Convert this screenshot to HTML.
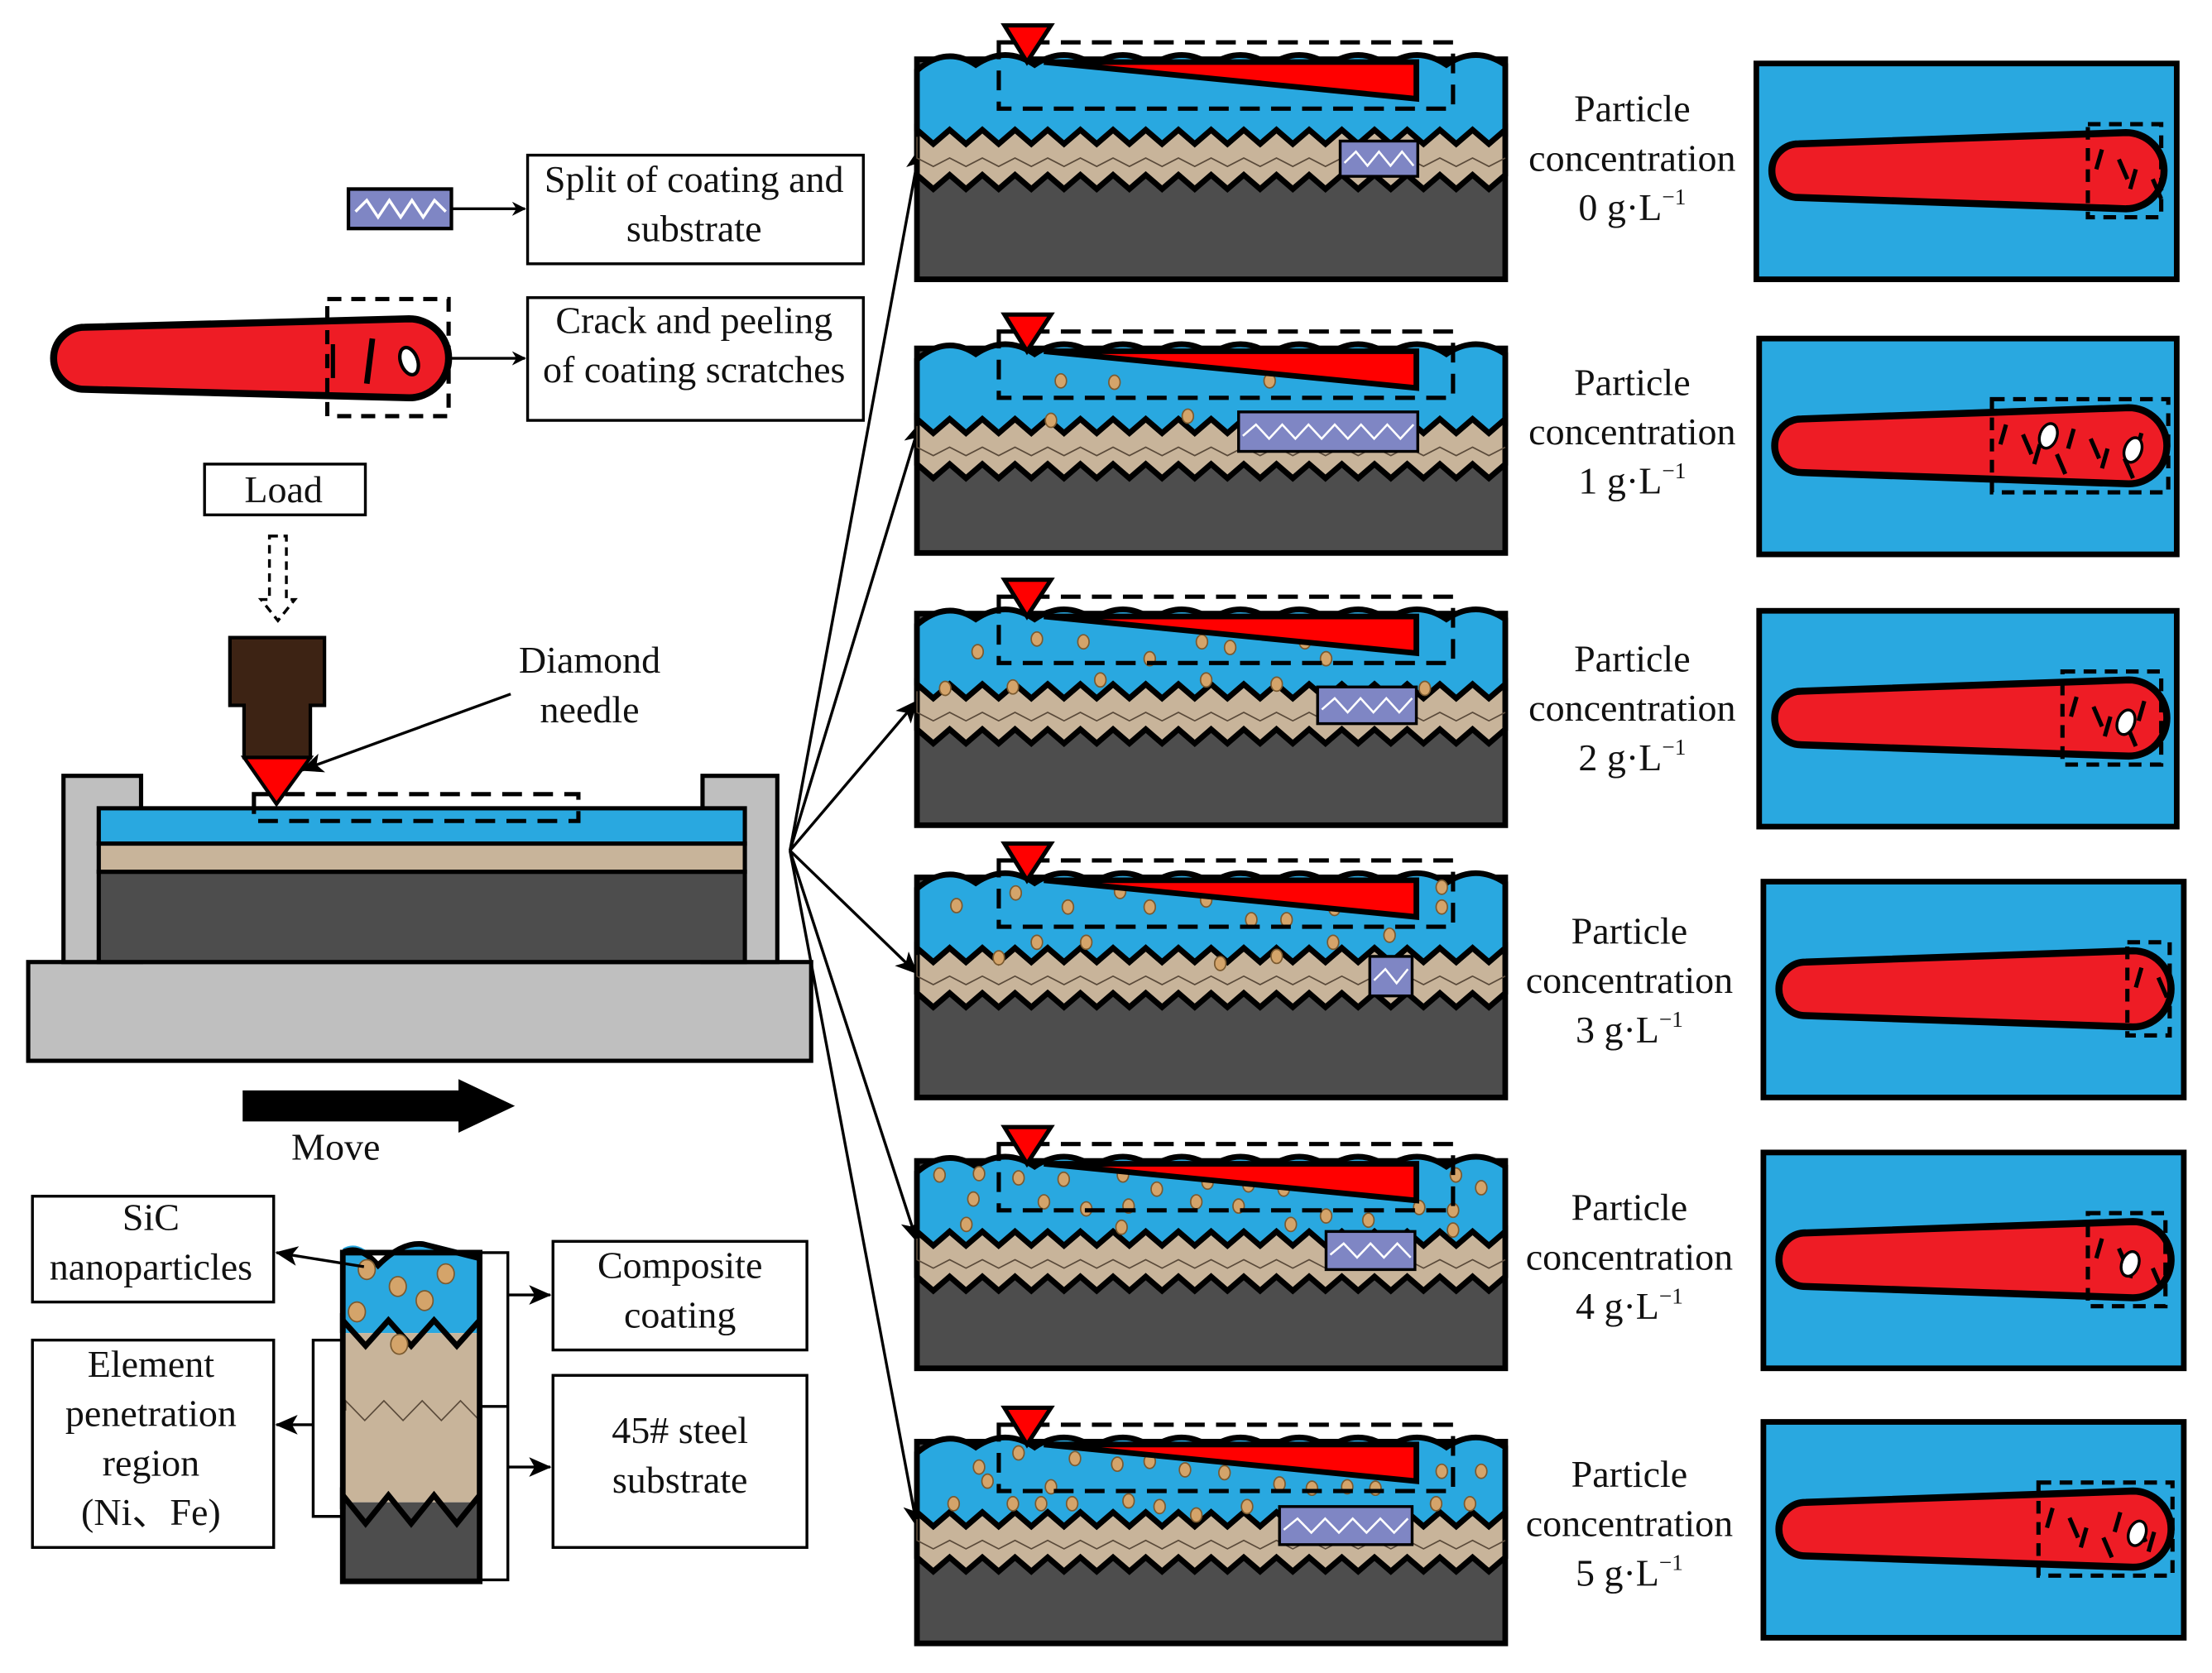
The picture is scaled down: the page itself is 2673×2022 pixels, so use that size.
<!DOCTYPE html>
<html><head><meta charset="utf-8"><style>
html,body{margin:0;padding:0;background:#fff}
svg{display:block}
text{font-family:"Liberation Serif",serif;font-size:27px;fill:#111;text-anchor:middle}
</style></head><body>
<div style="position:relative;width:2673px;height:2022px">
<svg id="s" width="2673" height="2022" viewBox="0 0 1568 1186" preserveAspectRatio="none" xmlns="http://www.w3.org/2000/svg" font-family="Liberation Serif, serif" style="position:absolute;left:0;top:0">
<defs>
<marker id="ah" markerWidth="10" markerHeight="10" refX="9" refY="5" orient="auto" markerUnits="userSpaceOnUse"><path d="M0,0 L10,5 L0,10 L3,5z" fill="#000"/></marker>
<marker id="ah2" markerWidth="16" markerHeight="14" refX="15" refY="7" orient="auto" markerUnits="userSpaceOnUse"><path d="M0,0 L16,7 L0,14 L4,7z" fill="#000"/></marker>
</defs>
<g id="g"></g>
<g font-family="Liberation Serif, serif" font-size="27" text-anchor="middle" fill="#111">
<text x="492" y="136">Split of coating and</text>
<text x="492" y="171">substrate</text>
<text x="492" y="236">Crack and peeling</text>
<text x="492" y="271">of coating scratches</text>
<text x="201" y="356">Load</text>
<text x="418" y="477">Diamond</text>
<text x="418" y="512">needle</text>
<text x="238" y="822">Move</text>
<text x="107" y="872">SiC</text>
<text x="107" y="907">nanoparticles</text>
<text x="107" y="976">Element</text>
<text x="107" y="1011">penetration</text>
<text x="107" y="1046">region</text>
<text x="107" y="1081">(Ni、Fe)</text>
<text x="482" y="906">Composite</text>
<text x="482" y="941">coating</text>
<text x="482" y="1023">45# steel</text>
<text x="482" y="1058">substrate</text>
<text x="1157" y="86">Particle</text><text x="1157" y="121">concentration</text><text x="1157" y="156">0 g·L<tspan font-size="16" dy="-11">−1</tspan></text>
<text x="1157" y="280">Particle</text><text x="1157" y="315">concentration</text><text x="1157" y="350">1 g·L<tspan font-size="16" dy="-11">−1</tspan></text>
<text x="1157" y="476">Particle</text><text x="1157" y="511">concentration</text><text x="1157" y="546">2 g·L<tspan font-size="16" dy="-11">−1</tspan></text>
<text x="1155" y="669">Particle</text><text x="1155" y="704">concentration</text><text x="1155" y="739">3 g·L<tspan font-size="16" dy="-11">−1</tspan></text>
<text x="1155" y="865">Particle</text><text x="1155" y="900">concentration</text><text x="1155" y="935">4 g·L<tspan font-size="16" dy="-11">−1</tspan></text>
<text x="1155" y="1054">Particle</text><text x="1155" y="1089">concentration</text><text x="1155" y="1124">5 g·L<tspan font-size="16" dy="-11">−1</tspan></text>
</g>
</svg>
</div>
<script>
const g=document.getElementById('g');let h='';
const BL='#29a8e0',TAN='#c8b49a',DK='#4d4d4d',RED='#ee1c25',RR='#ff0000',GR='#bfbfbf',PU='#7f86c4',PT='#d4a46a';
function zig(x1,x2,y,amp,n){let s='';const st=(x2-x1)/n;for(let i=0;i<=n;i++){s+=` L${x1+i*st},${y+(i%2?amp:-amp)}`;}return s;}
function zigR(x1,x2,y,amp,n){let s='';const st=(x2-x1)/n;for(let i=n;i>=0;i--){s+=` L${x1+i*st},${y+(i%2?amp:-amp)}`;}return s;}
function wave(x1,x2,y){let s=`M${x1},${y+8}`;const n=10,st=(x2-x1)/n;for(let i=1;i<=n;i++){s+=` Q${x1+(i-0.5)*st},${y-10} ${x1+i*st},${y+4}`;}return s;}
h+=`<rect x="247" y="134" width="73" height="28" fill="${PU}" stroke="#000" stroke-width="2.5"/>`;
h+=`<path d="M252,150 L260,142 L268,154 L276,142 L284,154 L292,142 L300,154 L308,142 L316,150" fill="none" stroke="#fff" stroke-width="2"/>`;
h+=`<line x1="320" y1="148" x2="372" y2="148" stroke="#000" stroke-width="2" marker-end="url(#ah)"/>`;
h+=`<rect x="374" y="110" width="238" height="77" fill="#fff" stroke="#000" stroke-width="2"/>`;
h+=`<rect x="374" y="211" width="238" height="87" fill="#fff" stroke="#000" stroke-width="2"/>`;
h+=`<path d="M60,232 L290,226 A27,27 0 0 1 290,282 L60,276 A22,22 0 0 1 60,232z" fill="${RED}" stroke="#000" stroke-width="5"/>`;
h+=`<rect x="232" y="212" width="86" height="83" fill="none" stroke="#000" stroke-width="3" stroke-dasharray="10,7"/>`;
h+=`<line x1="236" y1="244" x2="236" y2="268" stroke="#000" stroke-width="3"/><line x1="264" y1="240" x2="260" y2="272" stroke="#000" stroke-width="4"/>`;
h+=`<ellipse cx="290" cy="256" rx="6" ry="10" fill="#fff" stroke="#000" stroke-width="2.5" transform="rotate(-20 290 256)"/>`;
h+=`<line x1="318" y1="254" x2="372" y2="254" stroke="#000" stroke-width="2" marker-end="url(#ah)"/>`;
h+=`<rect x="145" y="329" width="114" height="36" fill="#fff" stroke="#000" stroke-width="2"/>`;
h+=`<path d="M191,380 L203,380 L203,425 L209,425 L197,440 L185,425 L191,425z" fill="#fff" stroke="#000" stroke-width="2" stroke-dasharray="6,4"/>`;
h+=`<rect x="20" y="682" width="555" height="70" fill="${GR}" stroke="#000" stroke-width="3"/>`;
h+=`<rect x="45" y="550" width="55" height="132" fill="${GR}" stroke="#000" stroke-width="3"/>`;
h+=`<rect x="498" y="550" width="53" height="132" fill="${GR}" stroke="#000" stroke-width="3"/>`;
h+=`<rect x="70" y="618" width="458" height="64" fill="${DK}" stroke="#000" stroke-width="3"/>`;
h+=`<rect x="70" y="598" width="458" height="20" fill="${TAN}" stroke="#000" stroke-width="3"/>`;
h+=`<rect x="70" y="573" width="458" height="25" fill="${BL}" stroke="#000" stroke-width="3"/>`;
h+=`<rect x="180" y="563" width="230" height="19" fill="none" stroke="#000" stroke-width="3" stroke-dasharray="14,8"/>`;
h+=`<path d="M163,452 L230,452 L230,500 L220,500 L220,537 L173,537 L173,500 L163,500z" fill="#3d2314" stroke="#000" stroke-width="2.5"/>`;
h+=`<path d="M173,537 L220,537 L196,570z" fill="${RR}" stroke="#000" stroke-width="2.5"/>`;
h+=`<line x1="362" y1="492" x2="214" y2="546" stroke="#000" stroke-width="2" marker-end="url(#ah2)"/>`;
h+=`<path d="M172,773 L325,773 L325,765 L365,784 L325,803 L325,795 L172,795z" fill="#000"/>`;
[[652,105],[652,300],[650,497],[650,690],[650,880],[650,1082]].forEach(p=>{h+=`<line x1="560" y1="603" x2="${p[0]}" y2="${p[1]}" stroke="#000" stroke-width="2" marker-end="url(#ah2)"/>`;});
const tops=[42,247,435,622,823,1022];
const bots=[198,392,585,778,970,1165];
const boxes=[[950,100,55,25],[878,292,127,28],[934,487,70,26],[971,678,30,28],[940,873,63,27],[907,1068,94,27]];
const parts=[[],[[752,270],[790,271],[900,270],[745,298],[842,295]],[[693,462],[735,453],[768,455],[815,467],[852,455],[872,459],[925,455],[940,467],[670,488],[718,487],[780,482],[855,482],[905,485],[1010,488]],
[[678,642],[720,633],[757,643],[794,632],[815,643],[855,638],[887,652],[912,652],[946,644],[985,643],[1022,629],[1022,643],[735,668],[770,668],[865,683],[905,678],[945,668],[985,663],[708,679]],
[[666,833],[694,832],[722,835],[754,836],[796,833],[820,843],[856,838],[885,840],[910,843],[690,850],[740,852],[770,857],[800,855],[848,852],[878,855],[940,862],[970,865],[1006,856],[1032,833],[1050,842],[1030,858],[685,868],[795,870],[915,868],[1030,872]],
[[694,1040],[722,1030],[762,1034],[792,1038],[815,1036],[840,1042],[868,1044],[907,1052],[930,1055],[955,1054],[1022,1043],[1050,1043],[676,1066],[718,1066],[738,1066],[760,1066],[800,1064],[822,1068],[848,1074],[884,1068],[1018,1066],[1042,1066],[700,1050],[745,1054],[975,1055]]];
tops.forEach((t,k)=>{
 const L=650,R=1067,B=bots[k],y1=t+55,y2=t+87;
 h+=`<rect x="${L}" y="${t}" width="${R-L}" height="${B-t}" fill="${DK}" stroke="#000" stroke-width="4"/>`;
 h+=`<path d="M${L},${y1}${zig(L,R,y1,5,36)}${zigR(L,R,y2,5,36)}z" fill="${TAN}" stroke="#000" stroke-width="4"/>`;
 h+=`<path d="M${L},${y1}${zig(L,R,y1+18,3,36)}" fill="none" stroke="#5a4a3a" stroke-width="1"/>`;
 h+=`<path d="${wave(L,R,t)} L${R},${y1}${zigR(L,R,y1,5,36)}z" fill="${BL}" stroke="#000" stroke-width="4"/>`;
 parts[k].forEach(p=>{h+=`<ellipse cx="${p[0]}" cy="${p[1]}" rx="4" ry="5" fill="${PT}" stroke="#7a5a30" stroke-width="1"/>`;});
 const b=boxes[k];h+=`<rect x="${b[0]}" y="${b[1]}" width="${b[2]}" height="${b[3]}" fill="${PU}" stroke="#000" stroke-width="2"/>`;
 let z=`M${b[0]+3},${b[1]+b[3]/2+3}`;const nz=Math.max(2,Math.round(b[2]/10));for(let i=1;i<=nz;i++)z+=` L${b[0]+3+i*(b[2]-6)/nz},${b[1]+b[3]/2+(i%2?-5:5)}`;
 h+=`<path d="${z}" fill="none" stroke="#fff" stroke-width="1.5"/>`;
 h+=`<rect x="708" y="${t-12}" width="322" height="47" fill="none" stroke="#000" stroke-width="3" stroke-dasharray="14,8"/>`;
 h+=`<path d="M740,${t+2} L1004,${t+2} L1004,${t+28}z" fill="${RR}" stroke="#000" stroke-width="4"/>`;
 h+=`<path d="M712,${t-24} L745,${t-24} L728,${t+2}z" fill="${RR}" stroke="#000" stroke-width="3"/>`;
});
const rt=[45,240,433,625,817,1008];const rx=[1245,1247,1247,1250,1250,1250];
rt.forEach((t,k)=>{
 const x=rx[k],w=1543-x+(k>=3?5:0),cy=t+76;
 h+=`<rect x="${x}" y="${t}" width="${w}" height="153" fill="${BL}" stroke="#000" stroke-width="4"/>`;
 const lx=x+30,rxx=x+262;
 h+=`<path d="M${lx},${cy-19} L${rxx},${cy-27} A27,27 0 0 1 ${rxx},${cy+27} L${lx},${cy+19} A19,19 0 0 1 ${lx},${cy-19}z" fill="${RED}" stroke="#000" stroke-width="5"/>`;
 const dx=[x+235,x+165,x+215,x+258,x+230,x+195][k],dw=[52,125,70,30,55,95][k];
 h+=`<rect x="${dx}" y="${cy-33}" width="${dw}" height="66" fill="none" stroke="#000" stroke-width="3" stroke-dasharray="9,6"/>`;
 for(let i=0;i<Math.max(2,Math.round(dw/14));i++){const xx=dx+10+i*12,yy=cy-15+((i*7)%25);h+=`<line x1="${xx}" y1="${yy}" x2="${xx+(i%2?6:-4)}" y2="${yy+14}" stroke="#000" stroke-width="3"/>`;}
 if(k!=3&&k!=0)h+=`<ellipse cx="${dx+dw-25}" cy="${cy+3}" rx="6" ry="9" fill="#fff" stroke="#000" stroke-width="2" transform="rotate(20 ${dx+dw-25} ${cy+3})"/>`;
 if(k==1)h+=`<ellipse cx="${x+205}" cy="${cy-7}" rx="6" ry="9" fill="#fff" stroke="#000" stroke-width="2" transform="rotate(20 ${x+205} ${cy-7})"/>`;
});
h+=`<path d="M243,885 Q255,878 268,895 Q285,878 300,880 L340,890 L340,945 L243,945z" fill="${BL}" stroke="none"/>`;
h+=`<rect x="243" y="945" width="97" height="120" fill="${TAN}"/>`;
h+=`<path d="M243,945${zig(243,340,945,9,6)}" fill="none" stroke="#000" stroke-width="4"/>`;
h+=`<rect x="243" y="1065" width="97" height="55" fill="${DK}"/>`;
h+=`<path d="M243,1070${zig(243,340,1070,10,6)}" fill="none" stroke="#000" stroke-width="4"/>`;
h+=`<path d="M245,1000${zig(245,340,1000,7,7)}" fill="none" stroke="#5a4a3a" stroke-width="1"/>`;
h+=`<path d="M243,888 Q255,882 268,897 Q285,880 300,882 L340,892" fill="none" stroke="#000" stroke-width="4"/>`;
h+=`<rect x="243" y="888" width="97" height="233" fill="none" stroke="#000" stroke-width="4"/>`;
[[260,900],[282,912],[301,922],[316,903],[253,930],[283,953]].forEach(p=>h+=`<ellipse cx="${p[0]}" cy="${p[1]}" rx="6" ry="7" fill="${PT}" stroke="#7a5a30" stroke-width="1"/>`);
h+=`<line x1="258" y1="898" x2="196" y2="888" stroke="#000" stroke-width="2" marker-end="url(#ah2)"/>`;
h+=`<path d="M340,888 L360,888 L360,997 L340,997 M360,997 L360,1120 L340,1120" fill="none" stroke="#000" stroke-width="2"/>`;
h+=`<path d="M243,950 L222,950 L222,1075 L243,1075" fill="none" stroke="#000" stroke-width="2"/>`;
h+=`<line x1="360" y1="918" x2="390" y2="918" stroke="#000" stroke-width="2" marker-end="url(#ah2)"/>`;
h+=`<line x1="360" y1="1040" x2="390" y2="1040" stroke="#000" stroke-width="2" marker-end="url(#ah2)"/>`;
h+=`<line x1="222" y1="1010" x2="196" y2="1010" stroke="#000" stroke-width="2" marker-end="url(#ah2)"/>`;
[[23,848,171,75],[23,950,171,147],[392,880,180,77],[392,975,180,122]].forEach(r=>h+=`<rect x="${r[0]}" y="${r[1]}" width="${r[2]}" height="${r[3]}" fill="none" stroke="#000" stroke-width="2"/>`);
g.innerHTML=h;
</script>
</body></html>
